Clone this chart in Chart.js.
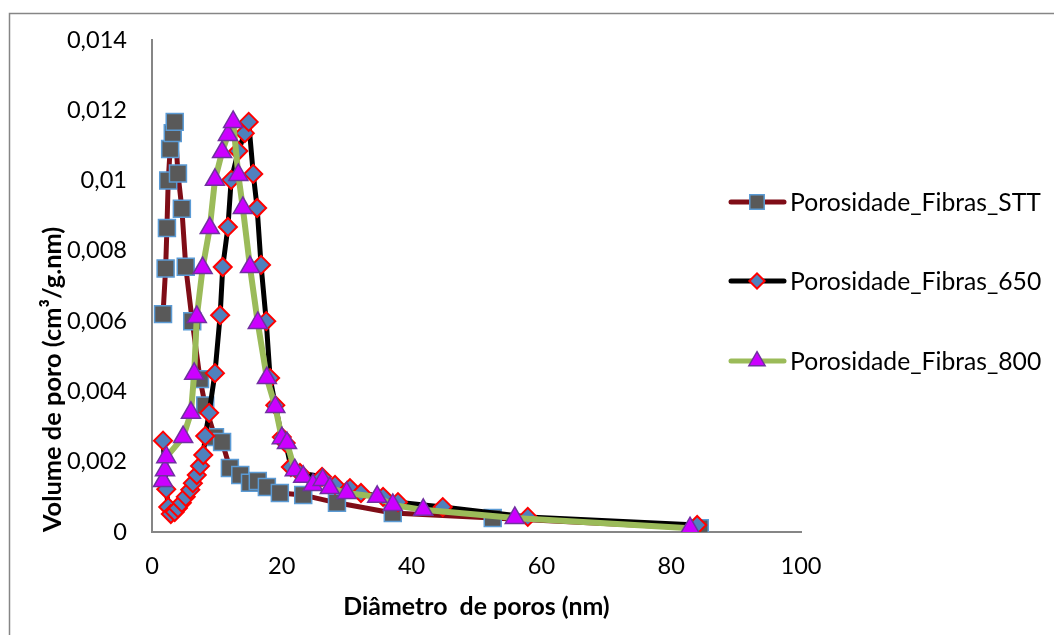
<!DOCTYPE html>
<html>
<head>
<meta charset="utf-8">
<script src="https://cdn.jsdelivr.net/npm/chart.js@4/dist/chart.umd.min.js"></script>
<style>
  html, body { margin: 0; padding: 0; background: #fff; }
  canvas { display: block; }
</style>
</head>
<body>
<canvas id="chart" width="1054" height="635"></canvas>
<script>
const seriesNames = ['Porosidade_Fibras_STT', 'Porosidade_Fibras_650', 'Porosidade_Fibras_800'];

// diameter (nm) / pore volume (cm3/g.nm)
const sttX = [1.7, 2.1, 2.3, 2.5, 2.8, 3.2, 3.5, 4.0, 4.6, 5.2, 6.2, 7.4, 8.2, 9.7, 10.8, 12.0, 13.6, 15.1, 16.3, 17.7, 19.7, 23.3, 28.5, 37.1, 52.5, 84.4];
const sttY = [0.0062, 0.0075, 0.00865, 0.0100, 0.0109, 0.01135, 0.01167, 0.0102, 0.0092, 0.00755, 0.0060, 0.00435, 0.0036, 0.0027, 0.00256, 0.00182, 0.00162, 0.0014, 0.00145, 0.00128, 0.00111, 0.00105, 0.00083, 0.00054, 0.0004, 0.00011];

const f650X = [1.7, 2.2, 2.5, 2.9, 3.5, 4.0, 4.6, 5.2, 5.9, 6.3, 6.9, 7.4, 7.9, 8.2, 8.8, 9.7, 10.5, 10.9, 11.7, 12.2, 13.3, 14.3, 14.9, 15.6, 16.2, 16.8, 17.6, 18.2, 19.0, 20.0, 20.6, 21.4, 22.8, 26.2, 28.2, 30.5, 32.2, 35.6, 37.9, 44.8, 57.9, 84.0];
const f650Y = [0.0026, 0.00122, 0.00071, 0.00051, 0.00057, 0.00068, 0.00083, 0.001, 0.0012, 0.00139, 0.00162, 0.00188, 0.00219, 0.00273, 0.00339, 0.00452, 0.00617, 0.00754, 0.00868, 0.01002, 0.01084, 0.01135, 0.01167, 0.01019, 0.00922, 0.0076, 0.006, 0.00438, 0.00361, 0.0027, 0.00253, 0.00185, 0.00168, 0.00157, 0.00134, 0.00125, 0.00111, 0.001, 0.00085, 0.00071, 0.00043, 0.0002];

const f800X = [1.7, 2.0, 2.2, 4.8, 6.0, 6.5, 6.9, 7.8, 8.9, 9.7, 10.8, 11.7, 12.5, 13.3, 14.0, 15.1, 16.3, 17.7, 19.0, 20.0, 20.8, 22.0, 23.3, 24.8, 26.3, 27.4, 30.0, 34.7, 37.1, 41.8, 55.9, 82.9];
const f800Y = [0.00145, 0.00176, 0.00213, 0.0027, 0.00339, 0.0045, 0.00612, 0.00751, 0.00865, 0.01002, 0.01081, 0.0113, 0.01167, 0.01016, 0.00922, 0.00754, 0.00595, 0.00438, 0.00356, 0.00267, 0.00253, 0.00176, 0.00157, 0.00134, 0.00148, 0.00125, 0.00111, 0.001, 0.00077, 0.00063, 0.0004, 0.00011];

const xTitle = 'Diâmetro  de poros (nm)';
const yTitle = 'Volume de poro (cm³/g.nm)';

const FONT = 'Lato';
const canvas = document.getElementById('chart');
const ctx = canvas.getContext('2d');

// pick a font size so a text gets the width it has in the picture
function fitSize(text, weight, width) {
  ctx.font = weight + ' 100px ' + FONT;
  return Math.round(100 * width / ctx.measureText(text).width * 10) / 10;
}
const tickSize = fitSize('0,014', 'normal', 60);
const legendSize = fitSize(seriesNames[0], 'normal', 251);
const xTitleSize = fitSize(xTitle, 'bold', 267);
const yTitleSize = fitSize(yTitle, 'bold', 306);

const toPoints = (xs, ys) => xs.map((x, i) => ({ x: x, y: ys[i] }));

const frame = {
  id: 'frame',
  beforeDraw(chart) {
    const c = chart.ctx;
    c.save();
    c.fillStyle = '#fff';
    c.fillRect(0, 0, chart.width, chart.height);
    c.strokeStyle = '#868686';
    c.lineWidth = 1.5;
    c.strokeRect(9.5, 13.5, 1100, 700);
    c.restore();
  }
};

const lineLegend = {
  id: 'lineLegend',
  afterDraw(chart) {
    const c = chart.ctx;
    const rows = [202, 281, 361];
    chart.data.datasets.forEach((ds, i) => {
      const y = rows[i];
      c.save();
      c.strokeStyle = ds.borderColor;
      c.lineWidth = 5;
      c.lineCap = 'round';
      c.beginPath();
      c.moveTo(731, y);
      c.lineTo(784, y);
      c.stroke();
      c.fillStyle = ds.pointBackgroundColor;
      c.strokeStyle = ds.pointBorderColor;
      c.lineWidth = ds.pointBorderWidth;
      Chart.helpers.drawPoint(c, {
        pointStyle: ds.pointStyle,
        radius: ds.pointRadius * 0.85,
        borderWidth: ds.pointBorderWidth,
        rotation: 0
      }, 757, y);
      c.fillStyle = '#000';
      c.font = legendSize + 'px ' + FONT;
      c.textBaseline = 'middle';
      c.textAlign = 'left';
      c.fillText(ds.label, 790, y + 1);
      c.restore();
    });
  }
};

new Chart(canvas, {
  type: 'line',
  data: {
    datasets: [
      {
        label: seriesNames[0],
        data: toPoints(sttX, sttY),
        borderColor: '#7f0d17',
        borderWidth: 5,
        pointStyle: 'rect',
        pointRadius: 12,
        pointBackgroundColor: '#595959',
        pointBorderColor: '#5b9bd5',
        pointBorderWidth: 1.5,
        order: 3
      },
      {
        label: seriesNames[1],
        data: toPoints(f650X, f650Y),
        borderColor: '#000000',
        borderWidth: 5,
        pointStyle: 'rectRot',
        pointRadius: 9,
        pointBackgroundColor: '#4f81bd',
        pointBorderColor: '#ff0000',
        pointBorderWidth: 2,
        order: 2
      },
      {
        label: seriesNames[2],
        data: toPoints(f800X, f800Y),
        borderColor: '#9bbb59',
        borderWidth: 6,
        pointStyle: 'triangle',
        pointRadius: 11,
        pointBackgroundColor: '#cc00ff',
        pointBorderColor: '#7030a0',
        pointBorderWidth: 1.5,
        order: 1
      }
    ]
  },
  options: {
    responsive: false,
    animation: false,
    events: [],
    layout: { padding: { top: 40, right: 253, bottom: 0, left: 0 } },
    elements: { line: { tension: 0, borderJoinStyle: 'round', borderCapStyle: 'round' } },
    plugins: {
      legend: { display: false },
      tooltip: { enabled: false }
    },
    scales: {
      x: {
        type: 'linear',
        min: 0,
        max: 100,
        grid: { display: false, drawTicks: false },
        border: { color: '#868686', width: 2 },
        ticks: {
          stepSize: 20,
          color: '#000',
          padding: 20,
          font: { family: FONT, size: tickSize }
        },
        title: {
          display: true,
          text: xTitle,
          color: '#000',
          padding: { top: 0, bottom: 13 },
          font: { family: FONT, size: xTitleSize, weight: 'bold' }
        },
        afterFit(scale) { scale.height = 103; }
      },
      y: {
        type: 'linear',
        min: 0,
        max: 0.014,
        grid: { display: false, drawTicks: false },
        border: { color: '#868686', width: 2 },
        ticks: {
          stepSize: 0.002,
          color: '#000',
          padding: 25,
          font: { family: FONT, size: tickSize },
          callback: v => String(parseFloat(v.toFixed(3))).replace('.', ',')
        },
        title: {
          display: true,
          text: yTitle,
          align: 'start',
          color: '#000',
          padding: { top: 38, bottom: 0 },
          font: { family: FONT, size: yTitleSize, weight: 'bold' }
        },
        afterFit(scale) { scale.width = 152; }
      }
    }
  },
  plugins: [frame, lineLegend]
});
</script>
</body>
</html>
